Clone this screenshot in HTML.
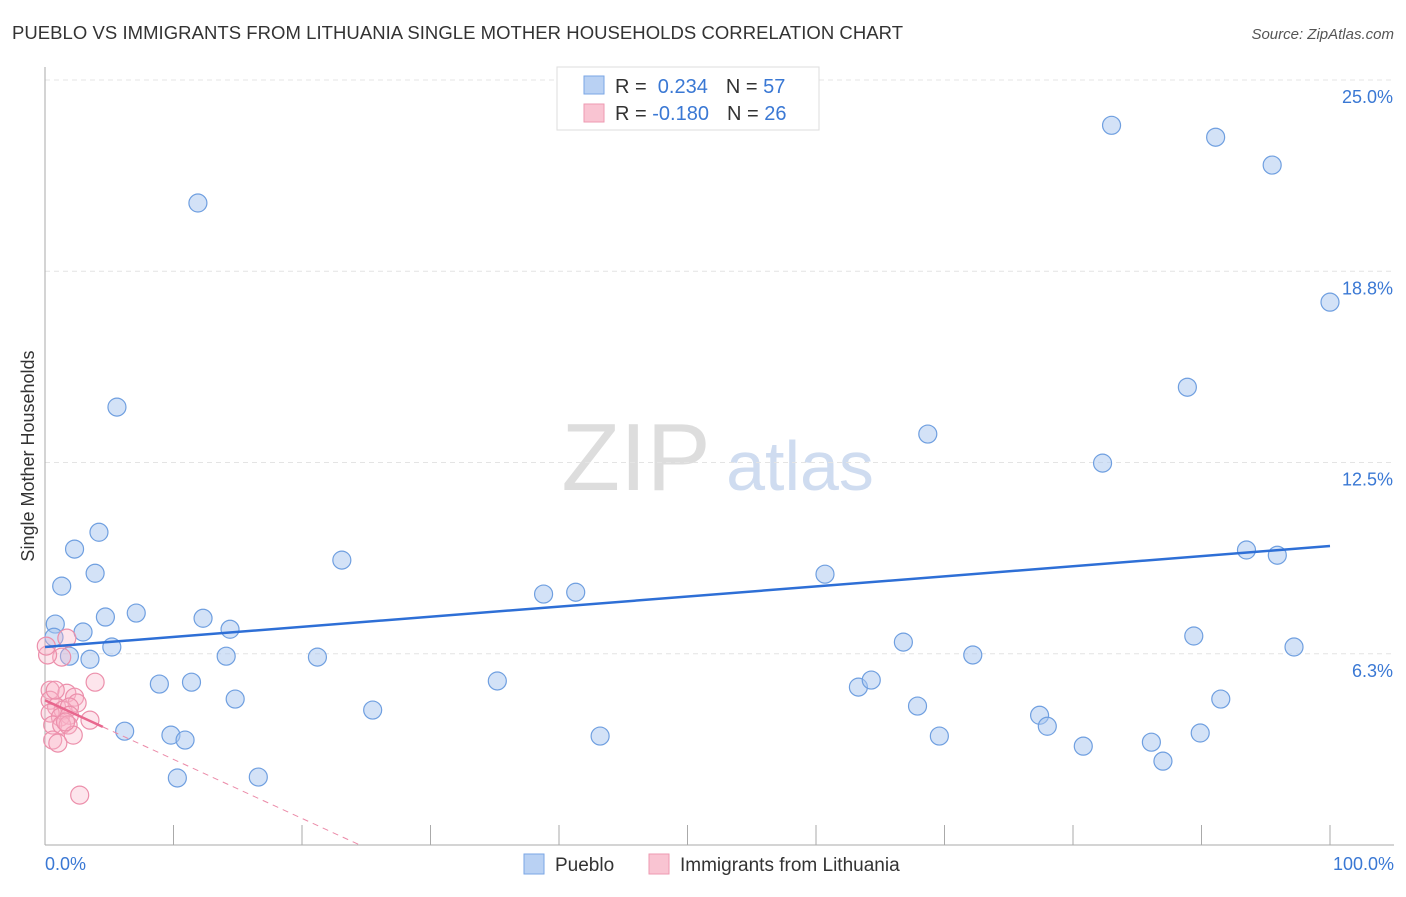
<!DOCTYPE html>
<html><head><meta charset="utf-8"><style>
body{margin:0;background:#fff;font-family:"Liberation Sans",sans-serif;}
svg text{font-family:"Liberation Sans",sans-serif;}
</style></head><body>
<svg width="1406" height="892">
<text x="12" y="39" font-size="18.5" fill="#333" textLength="891">PUEBLO VS IMMIGRANTS FROM LITHUANIA SINGLE MOTHER HOUSEHOLDS CORRELATION CHART</text>
<text x="1394" y="39" font-size="15" fill="#555" font-style="italic" text-anchor="end">Source: ZipAtlas.com</text>
<text x="636" y="490" font-size="96" fill="#ddd" font-family="Liberation Serif" text-anchor="middle">ZIP</text>
<text x="800" y="490" font-size="70" fill="#cfdcf0" text-anchor="middle">atlas</text>
<g id="grid"></g><g id="axes"></g><g id="marks"></g>
<text transform="translate(34,456) rotate(-90)" font-size="18" fill="#333" text-anchor="middle">Single Mother Households</text>
<text x="45" y="870" font-size="18" fill="#3a78d4">0.0%</text>
<text x="1394" y="870" font-size="18" fill="#3a78d4" text-anchor="end">100.0%</text>
<g>
<rect x="557" y="67" width="262" height="63" fill="#fff" stroke="#ddd"/>
<rect x="584" y="76" width="20" height="18" fill="#b9d1f3" stroke="#7aa6e6"/>
<rect x="584" y="104" width="20" height="18" fill="#f9c4d2" stroke="#ee9ab1"/>
<text x="615" y="93" font-size="20" fill="#333">R = <tspan fill="#3a78d4">&#160;0.234</tspan><tspan dx="18">N = </tspan><tspan fill="#3a78d4">57</tspan></text>
<text x="615" y="120" font-size="20" fill="#333">R = <tspan fill="#3a78d4">-0.180</tspan><tspan dx="18">N = </tspan><tspan fill="#3a78d4">26</tspan></text>
</g>
<g>
<rect x="524" y="854" width="20" height="20" fill="#b9d1f3" stroke="#7aa6e6"/>
<text x="555" y="871" font-size="19" fill="#333">Pueblo</text>
<rect x="649" y="854" width="20" height="20" fill="#f9c4d2" stroke="#ee9ab1"/>
<text x="680" y="871" font-size="19" fill="#333">Immigrants from Lithuania</text>
</g>
</svg>
<script>
const yTicks=[6.25,12.5,18.75,25];
const yTickLabels=["6.3%","12.5%","18.8%","25.0%"];
const blueX=[11.9,5.6,83.0,91.1,95.5,100,88.9,68.7,82.3,4.2,2.3,3.9,1.3,23.1,38.8,41.3,60.7,93.5,95.9,0.8,4.7,7.1,12.3,14.4,2.96,0.7,5.2,1.9,3.5,14.1,21.2,66.8,89.4,72.2,97.2,8.9,11.4,14.8,35.2,63.3,64.3,25.5,67.9,91.5,77.4,78.0,6.2,9.8,10.9,43.2,69.6,80.8,86.1,89.9,87.0,10.3,16.6];
const blueY=[20.98,14.31,23.52,23.13,22.22,17.74,14.96,13.43,12.48,10.22,9.67,8.88,8.46,9.31,8.20,8.26,8.85,9.64,9.47,7.22,7.45,7.58,7.41,7.05,6.96,6.79,6.47,6.17,6.07,6.17,6.14,6.63,6.83,6.21,6.47,5.26,5.32,4.77,5.36,5.16,5.39,4.41,4.54,4.77,4.24,3.88,3.72,3.59,3.43,3.56,3.56,3.23,3.36,3.66,2.74,2.19,2.22];
const pinkX=[1.7,1.3,0.2,3.9,0.4,1.7,2.3,2.5,0.4,0.9,1.4,1.9,0.4,1.2,1.9,3.5,0.6,1.3,1.8,2.2,0.6,1.0,2.7,0.1,0.8,1.6];
const pinkY=[6.76,6.14,6.21,5.32,5.06,4.96,4.83,4.64,4.73,4.51,4.41,4.51,4.31,4.18,4.24,4.08,3.92,3.92,3.92,3.59,3.43,3.33,1.63,6.50,5.06,4.02];
const blueTrend=[[0,6.47],[100,9.77]];
const pinkTrend=[[0,4.73],[4.5,3.86],[24.5,0.0]];
const NS="http://www.w3.org/2000/svg";
const xs=v=>45+v*12.85, ys=v=>845-v*30.6;
function mk(p,t,a){const e=document.createElementNS(NS,t);for(const k in a)e.setAttribute(k,a[k]);document.getElementById(p).appendChild(e);return e;}
yTicks.forEach((t,i)=>{
 const l=mk('grid','line',{x1:45,x2:1394,y1:ys(t),y2:ys(t),stroke:'#e4e4e4','stroke-dasharray':'5,4'});
 
 
 const tx=mk('grid','text',{x:1393,y:ys(t)+23,'font-size':18,fill:'#3a78d4','text-anchor':'end'});
 tx.textContent=yTickLabels[i];
 
 
});
let a=mk('axes','line',{x1:45,x2:45,y1:67,y2:845,stroke:'#aaa'});


a=mk('axes','line',{x1:45,x2:1394,y1:845,y2:845,stroke:'#aaa'});


for(let i=1;i<=10;i++){const t=mk('axes','line',{x1:xs(i*10),x2:xs(i*10),y1:825,y2:845,stroke:'#aaa'});
 
 }
blueX.forEach((x,i)=>{const c=mk('marks','circle',{cx:xs(x),cy:ys(blueY[i]),r:9,fill:'rgba(168,198,240,0.5)',stroke:'#6f9fe0','stroke-width':1.2});
 
 });
pinkX.forEach((x,i)=>{const c=mk('marks','circle',{cx:xs(x),cy:ys(pinkY[i]),r:9,fill:'rgba(248,180,200,0.35)',stroke:'#ec8fab','stroke-width':1.2});
 
 });
let t=mk('marks','line',{x1:xs(blueTrend[0][0]),y1:ys(blueTrend[0][1]),x2:xs(blueTrend[1][0]),y2:ys(blueTrend[1][1]),stroke:'#2e6fd6','stroke-width':2.5});


t=mk('marks','line',{x1:xs(pinkTrend[0][0]),y1:ys(pinkTrend[0][1]),x2:xs(pinkTrend[1][0]),y2:ys(pinkTrend[1][1]),stroke:'#e8678e','stroke-width':2.5});


t=mk('marks','line',{x1:xs(pinkTrend[1][0]),y1:ys(pinkTrend[1][1]),x2:xs(pinkTrend[2][0]),y2:ys(pinkTrend[2][1]),stroke:'#eb8aa8','stroke-width':1,'stroke-dasharray':'6,5'});


</script>
</body></html>
